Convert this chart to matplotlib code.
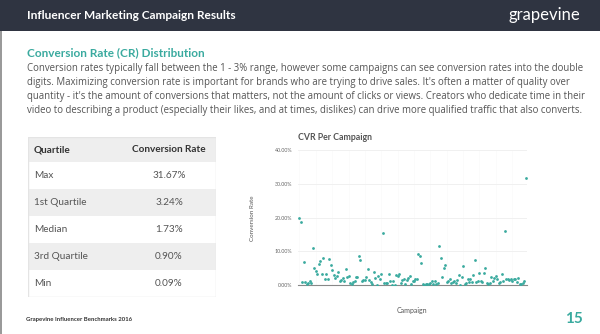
import matplotlib.pyplot as plt
from matplotlib.patches import Rectangle
from matplotlib.ticker import FuncFormatter

plt.rcParams['font.family'] = ['Lato', 'DejaVu Sans']

# table data
quartile_names = ['Max', '1st Quartile', 'Median', '3rd Quartile', 'Min']
quartile_values = ['31.67%', '3.24%', '1.73%', '0.90%', '0.09%']

# CVR per campaign (%)
cvr = [20.0, 18.8, 1.0, 6.7, 0.8, 0.3, 0.5, 1.2, 0.7, 11.1,
       5.0, 4.2, 3.3, 6.1, 7.1, 3.4, 7.9, 1.9, 3.2, 1.9,
       7.8, 6.0, 4.4, 3.0, 2.0, 2.6, 3.8, 1.1, 1.4, 2.0,
       1.2, 4.8, 2.3, 2.8, 0.5, 0.2, 0.8, 1.2, 2.3, 2.3,
       8.6, 7.3, 1.3, 1.6, 1.5, 2.3, 4.6, 1.5, 1.0, 0.2,
       4.0, 2.0, 0.1, 2.7, 1.7, 3.2, 15.3, 0.6, 0.7, 0.6,
       3.2, 1.2, 0.1, 1.2, 0.1, 2.9, 2.6, 3.3, 0.5, 1.5,
       1.9, 0.3, 1.5, 2.1, 2.7, 0.3, 1.1, 1.2, 1.7, 1.7,
       9.1, 8.5, 6.4, 0.3, 0.1, 0.3, 0.4, 0.4, 0.5, 1.2,
       0.2, 1.2, 0.4, 0.5, 11.6, 8.1, 2.5, 5.1, 6.0, 0.8,
       1.3, 1.7, 0.7, 1.0, 1.2, 0.5, 1.5, 3.1, 0.09, 2.5,
       5.7, 0.3, 0.6, 1.8, 0.9, 1.9, 0.9, 2.9, 7.4, 0.9,
       1.1, 3.6, 1.1, 0.9, 3.5, 5.1, 0.7, 0.3, 0.5, 2.3,
       1.3, 2.0, 2.6, 1.7, 0.5, 0.9, 3.3, 1.2, 16.0, 1.8,
       1.7, 1.5, 1.9, 1.3, 1.7, 1.9, 0.9, 2.2, 0.3, 0.4,
       0.5, 1.2, 31.67]

W, H = 600, 334
teal = '#3aaa9f'
body = '#555555'


def fx(x):
    return x / W


def fy(y):
    return 1 - y / H


fig = plt.figure(figsize=(6, 3.34), dpi=100)
fig.patch.set_facecolor('white')

# header bar and left border
fig.patches.append(Rectangle((0, fy(31)), 1, 31 / H, transform=fig.transFigure,
                             facecolor='#2f3441', edgecolor='none', zorder=0))
fig.patches.append(Rectangle((0, 0), 2 / W, fy(31), transform=fig.transFigure,
                             facecolor='#9a9a9a', edgecolor='none', zorder=0))
fig.text(fx(27), fy(15.5), 'Influencer Marketing Campaign Results', color='white',
         fontsize=8.6, fontweight='bold', va='center')
fig.text(fx(580), fy(15), 'grapevine', color='white', fontsize=12, ha='right', va='center')

# heading and paragraph
fig.text(fx(27), fy(52.5), 'Conversion Rate (CR) Distribution', color=teal,
         fontsize=8.5, fontweight='bold', va='center')
para = ["Conversion rates typically fall between the 1 - 3% range, however some campaigns can see conversion rates into the double",
        "digits. Maximizing conversion rate is important for brands who are trying to drive sales. It's often a matter of quality over",
        "quantity - it's the amount of conversions that matters, not the amount of clicks or views. Creators who dedicate time in their",
        "video to describing a product (especially their likes, and at times, dislikes) can drive more qualified traffic that also converts."]
for i, line in enumerate(para):
    fig.text(fx(27), fy(68 + i * 14), line, color=body, fontsize=6.9, va='center',
             family=['Open Sans', 'DejaVu Sans'])

# table
tax = fig.add_axes([fx(28), fy(297), (216 - 28) / W, (297 - 137) / H])
tax.set_xlim(0, 188)
tax.set_ylim(6, 0)
tax.axis('off')
rows = [('Quartile', 'Conversion Rate')] + list(zip(quartile_names, quartile_values))
y0 = 0
for i, (name, val) in enumerate(rows):
    h = 6 * (25 if i == 0 else 27) / (25 + 27 * 5)
    fc = '#eeeeee' if i % 2 == 0 else 'white'
    tax.add_patch(Rectangle((0, y0), 188, h, facecolor=fc, edgecolor='none'))
    w = 'bold' if i == 0 else 'normal'
    c = '#333333' if i == 0 else body
    tax.text(6, y0 + h / 2, name, fontsize=7.2, color=c, fontweight=w, va='center')
    tax.text(141, y0 + h / 2, val, fontsize=7.2, color=c, fontweight=w,
             va='center', ha='center')
    y0 += h
tax.add_patch(Rectangle((0, 0), 188, 6, facecolor='none', edgecolor='#e4e4e4', lw=1))

# scatter chart
ax = fig.add_axes([fx(298), fy(285), (527 - 298) / W, (285 - 150) / H])
x = list(range(len(cvr)))
ax.scatter(x, cvr, s=4, color=teal, linewidths=0, zorder=3)
ax.set_ylim(0, 40)
ax.set_xlim(-1, len(cvr))
ax.set_yticks([0, 10, 20, 30, 40])
ax.yaxis.set_major_formatter(FuncFormatter(lambda v, p: f'{v:.2f}%'))
ax.tick_params(axis='y', length=0, labelsize=3.8, labelcolor='#666666', pad=4)
ax.set_xticks([])
ax.grid(axis='y', color='#eeeeee', lw=0.6)
for xv in range(0, len(cvr), 11):
    ax.axvline(xv, color='#fafafa', lw=0.5, zorder=0)
for s in ['top', 'right', 'left']:
    ax.spines[s].set_visible(False)
ax.spines['bottom'].set_color('#888888')
ax.spines['bottom'].set_linewidth(0.8)
fig.text(fx(298), fy(137), 'CVR Per Campaign', fontsize=6.3, fontweight='bold',
         color='#555555', va='center')
fig.text(fx(253), fy(218), 'Conversion Rate', fontsize=4.5, color='#555555',
         rotation=90, va='center', ha='center')
fig.text(fx(412), fy(311), 'Campaign', fontsize=5, color='#555555', ha='center', va='center')

# footer
fig.text(fx(26), fy(320), 'Grapevine Influencer Benchmarks 2016', fontsize=4.3,
         fontweight='bold', color='#333333', va='center')
fig.text(fx(583), fy(319), '15', fontsize=11, fontweight='bold', color=teal,
         ha='right', va='center')

fig.savefig('out.png', dpi=100)
